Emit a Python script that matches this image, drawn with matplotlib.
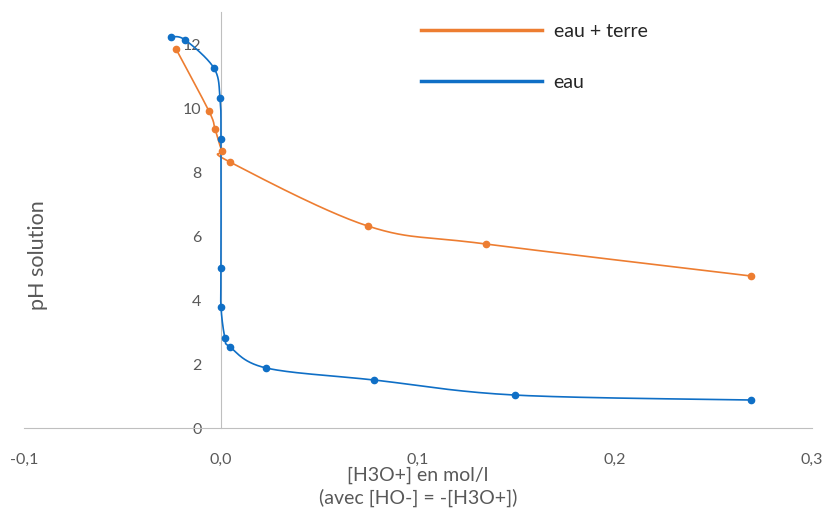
import numpy as np
import matplotlib
matplotlib.use("Agg")
import matplotlib.pyplot as plt
from matplotlib.lines import Line2D

# data
x_eau = [-0.0254, -0.0183, -0.0036, -0.0005, 0.0, 0.0, 0.0, 0.002, 0.0046, 0.023, 0.0777, 0.149, 0.269]
ph_eau = [12.22, 12.13, 11.25, 10.31, 9.03, 5.0, 3.78, 2.81, 2.53, 1.875, 1.5, 1.03, 0.875]

x_terre = [-0.0228, -0.0061, -0.003, 0.0005, 0.0046, 0.0746, 0.1345, 0.269]
ph_terre = [11.84, 9.9, 9.34, 8.66, 8.31, 6.31, 5.75, 4.75]

xticks = [-0.1, 0.0, 0.1, 0.2, 0.3]
xtick_labels = ['-0,1', '0,0', '0,1', '0,2', '0,3']
yticks = [0, 2, 4, 6, 8, 10, 12]

blue = '#0F6FC6'
orange = '#ED7D31'
grey_txt = '#595959'

plt.rcParams['font.family'] = ['Lato', 'DejaVu Sans']


def smooth(xs, ys, n=30):
    # catmull-rom style smoothing, like excel's "smoothed line"
    pts = np.column_stack([xs, ys]).astype(float)
    out = [pts[0]]
    for i in range(len(pts) - 1):
        p0 = pts[i - 1] if i > 0 else pts[i]
        p1 = pts[i]
        p2 = pts[i + 1]
        p3 = pts[i + 2] if i + 2 < len(pts) else pts[i + 1]
        c1 = p1 + (p2 - p0) / 6.0
        c2 = p2 - (p3 - p1) / 6.0
        t = np.linspace(0, 1, n)[1:, None]
        seg = ((1 - t) ** 3) * p1 + 3 * ((1 - t) ** 2) * t * c1 + 3 * (1 - t) * t ** 2 * c2 + t ** 3 * p2
        out.extend(seg)
    out = np.array(out)
    return out[:, 0], out[:, 1]


fig = plt.figure(figsize=(8.27, 5.13), dpi=100)
ax = fig.add_axes([24 / 827, 85 / 513, (812 - 24) / 827, (428 - 12) / 513])

sx, sy = smooth(x_terre, ph_terre)
ax.plot(sx, sy, color=orange, lw=1.2, zorder=3)
ax.plot(x_terre, ph_terre, 'o', color=orange, ms=4.5, zorder=4)

sx, sy = smooth(x_eau, ph_eau)
ax.plot(sx, sy, color=blue, lw=1.2, zorder=3)
ax.plot(x_eau, ph_eau, 'o', color=blue, ms=4.5, zorder=4)

ax.set_xlim(-0.1, 0.3)
ax.set_ylim(0, 13)

for s in ['top', 'right']:
    ax.spines[s].set_visible(False)
ax.spines['left'].set_position(('data', 0))
ax.spines['left'].set_color('#bfbfbf')
ax.spines['bottom'].set_color('#bfbfbf')

ax.set_xticks(xticks)
ax.set_xticklabels(xtick_labels)
ax.set_yticks(yticks)
ax.tick_params(axis='both', length=0, labelsize=11.5, colors=grey_txt)
ax.tick_params(axis='x', pad=18)
ax.tick_params(axis='y', pad=14)

ax.set_xlabel('[H3O+] en mol/l\n(avec [HO-] = -[H3O+])', fontsize=14, color=grey_txt,
              labelpad=0, linespacing=1.3)
fig.text(38 / 827, 1 - 255 / 513, 'pH solution', rotation=90, fontsize=15.5, color=grey_txt,
         ha='center', va='center')

handles = [Line2D([], [], color=orange, lw=2.5), Line2D([], [], color=blue, lw=2.5)]
ax.legend(handles, ['eau + terre', 'eau'], loc='upper left', bbox_to_anchor=(0.482, 1.015),
          frameon=False, fontsize=14, handlelength=6.2, labelspacing=1.75, handletextpad=0.6,
          labelcolor='#262626')

fig.savefig('out.png', dpi=100)
